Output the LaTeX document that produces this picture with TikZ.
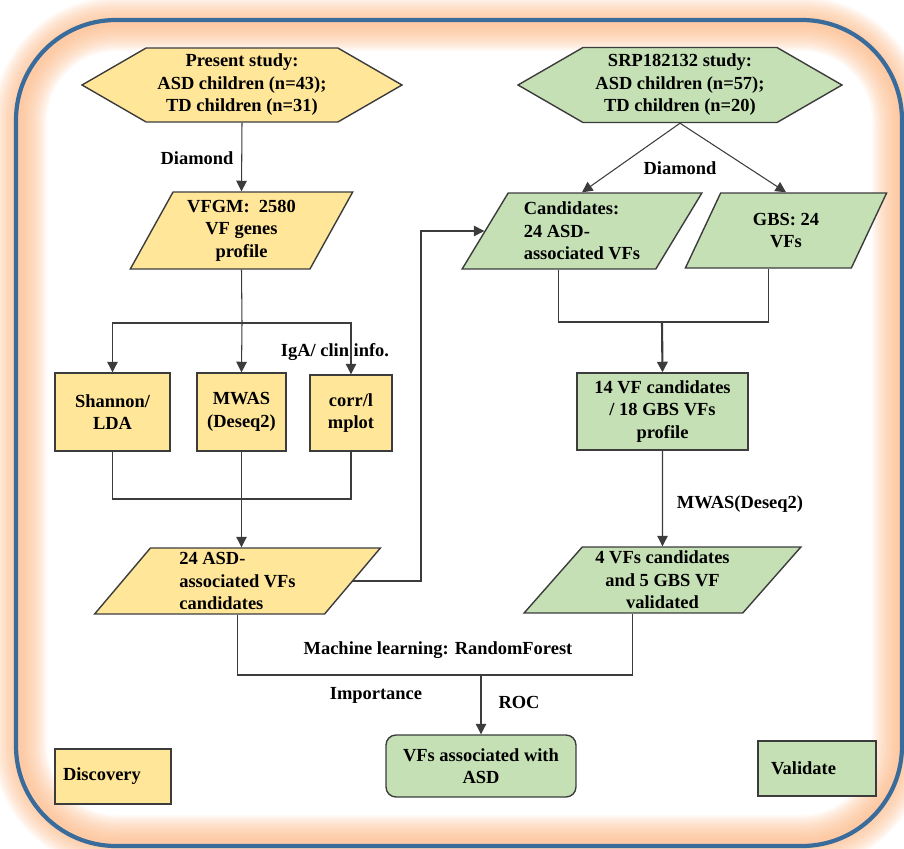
\documentclass[tikz,border=0pt]{standalone}
\usepackage{fontspec}
\setmainfont{Liberation Serif}
\usetikzlibrary{shapes.geometric, shapes.symbols, arrows.meta}

\definecolor{boxyellow}{RGB}{255,230,153}
\definecolor{boxgreen}{RGB}{197,224,180}
\definecolor{edgegray}{RGB}{60,60,60}
\definecolor{frameblue}{RGB}{58,108,155}
\definecolor{glow}{RGB}{252,185,135}

\tikzset{
  every node/.style={font=\fontsize{10.5}{12.8}\selectfont\bfseries, align=center},
  hexbox/.style={signal, signal to=west and east, signal pointer angle=60, draw=edgegray, line width=0.8pt, inner sep=0pt},
  databox/.style={trapezium, trapezium stretches=true, draw=edgegray, line width=0.8pt, inner sep=0pt},
  procbox/.style={rectangle, draw=edgegray, line width=0.8pt, inner sep=0pt},
  link/.style={draw=edgegray, line width=0.6pt},
  arr/.style={link, -{Triangle[length=6pt,width=6pt]}},
}

\begin{document}
\begin{tikzpicture}[x=0.02cm, y=-0.02cm]
\useasboundingbox (0,0) rectangle (904,849);
\foreach \w in {3,6,...,54}
  \draw[glow, opacity=0.075, line width=\w*0.02cm, rounded corners=1.95cm] (20,24) rectangle (899,842);
\draw[frameblue, line width=2.4pt, rounded corners=2cm] (16,20) rectangle (902,846);

\node[hexbox, fill=boxyellow, minimum width=6.4cm, minimum height=1.48cm] (present) at (242,85) {Present study:\\ASD children (n=43);\\TD children (n=31)};
\node[hexbox, fill=boxgreen, minimum width=6.48cm, minimum height=1.5cm] (srp) at (680,85) {SRP182132 study:\\ASD children (n=57);\\TD children (n=20)};

\node[databox, fill=boxyellow, trapezium left angle=61, trapezium right angle=119, minimum width=4.48cm, minimum height=1.54cm] (vfgm) at (241.5,230.5) {VFGM:\ \ 2580\\VF genes\\profile};
\node[databox, fill=boxgreen, trapezium left angle=58, trapezium right angle=122, minimum width=4.8cm, minimum height=1.52cm, align=left] (cand) at (582,231) {Candidates:\\24 ASD-\\associated VFs};
\node[databox, fill=boxgreen, trapezium left angle=63, trapezium right angle=117, minimum width=4.04cm, minimum height=1.5cm] (gbs) at (786,230.5) {GBS: 24\\VFs};

\node[procbox, fill=boxyellow, minimum width=2.3cm, minimum height=1.56cm] (shannon) at (112.5,412) {Shannon/\\LDA};
\node[procbox, fill=boxyellow, minimum width=1.78cm, minimum height=1.56cm] (mwas) at (241.5,412) {MWAS\\(Deseq2)};
\node[procbox, fill=boxyellow, minimum width=1.64cm, minimum height=1.52cm] (corr) at (351,413) {corr/l\\mplot};
\node[procbox, fill=boxgreen, minimum width=3.42cm, minimum height=1.54cm] (vf14) at (662.5,411.5) {14 VF candidates\\/ 18 GBS VFs\\profile};

\node[databox, fill=boxyellow, trapezium left angle=57, trapezium right angle=123, minimum width=5.72cm, minimum height=1.32cm, align=left] (asd) at (237.5,581) {24 ASD-\\associated VFs\\candidates};
\node[databox, fill=boxgreen, trapezium left angle=50, trapezium right angle=130, minimum width=5.54cm, minimum height=1.32cm] (vf4) at (662.5,580) {4 VFs candidates\\and 5 GBS VF\\validated};

\node[procbox, fill=boxgreen, rounded corners=0.2cm, minimum width=3.8cm, minimum height=1.24cm] (final) at (481,766) {VFs associated with\\ASD};
\node[procbox, fill=boxyellow, minimum width=2.32cm, minimum height=1.1cm, inner xsep=0.16cm, text width=2cm, align=left] (discovery) at (113,776.5) {Discovery};
\node[procbox, fill=boxgreen, minimum width=2.36cm, minimum height=1.1cm, inner xsep=0.26cm, text width=1.84cm, align=left] (validate) at (817,768.5) {Validate};

\node (diamondL) at (197,158) {Diamond};
\node (diamondR) at (680,168) {Diamond};
\node (igalbl) at (335,352) {IgA/ clin info.};
\node (mwaslbl) at (740,504) {MWAS(Deseq2)};
\node (mllbl) at (438,650) {Machine learning: RandomForest};
\node (implbl) at (376,695) {Importance};
\node (roclbl) at (519,702) {ROC};

\coordinate (split) at (242,323);
\coordinate (merge) at (242,499);
\coordinate (jog) at (421,581);
\coordinate (join) at (662,322);
\coordinate (mlbar) at (481,675);

\draw[arr] (present.south) -- (vfgm.north);
\draw[link] (vfgm.south) -- (split);
\draw[arr] (split) -| (shannon.north);
\draw[arr] (split) -- (mwas.north);
\draw[arr] (split) -| (corr.north);
\draw[link] (shannon.south) |- (merge) -| (corr.south);
\draw[arr] (mwas.south) -- (mwas.south |- asd.north);
\draw[arr] (asd.east) -| (jog |- cand.west) -- (cand.west);

\draw[arr] (srp.south) -- (cand.north);
\draw[arr] (srp.south) -- (gbs.north);
\draw[link] (cand.bottom side) |- (join) -| (gbs.bottom side);
\draw[arr, line width=1.2pt] (join) -- (vf14.north);
\draw[arr] (vf14.south) -- (vf4.north);
\draw[link] (asd.south) |- (mlbar) -| (vf4.bottom side);
\draw[arr] (mlbar) -- (final.north);
\end{tikzpicture}
\end{document}
